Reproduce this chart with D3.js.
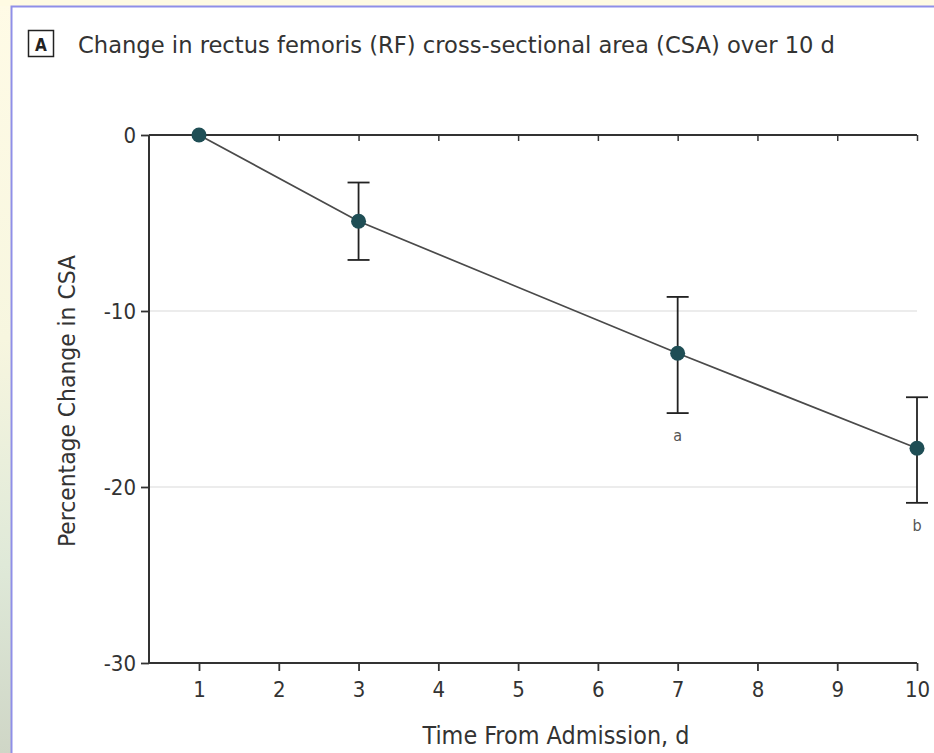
<!DOCTYPE html>
<html>
<head>
<meta charset="utf-8">
<script src="https://cdn.jsdelivr.net/npm/d3@7"></script>
<style>
  html, body { margin: 0; padding: 0; background: #fff; }
  svg { display: block; }
  text { font-family: "DejaVu Sans Condensed", "Liberation Sans Narrow", sans-serif; fill: #333; }
</style>
</head>
<body>
<div id="chart"></div>
<script>
// chart values
var days = [1, 3, 7, 10];
var meanChange = [0, -4.9, -12.4, -17.8];
var upperCI = [null, -2.7, -9.2, -14.9];
var lowerCI = [null, -7.1, -15.8, -20.9];
var notes = ["", "", "a", "b"];
var xTicks = [1, 2, 3, 4, 5, 6, 7, 8, 9, 10];
var yTicks = [0, -10, -20, -30];
var gridTicks = [-10, -20];

var titleText = "Change in rectus femoris (RF) cross-sectional area (CSA) over 10 d";
var yTitle = "Percentage Change in CSA";
var xTitle = "Time From Admission, d";

(function() {
  var w = 934, h = 753;
  var plotLeft = 149, plotRight = 917, plotTop = 135, plotBottom = 663;

  var svg = d3.select("#chart").append("svg")
      .attr("width", w)
      .attr("height", h);

  // slide background behind the figure
  var grad = svg.append("defs").append("linearGradient")
      .attr("id", "side").attr("x1", 0).attr("y1", 0).attr("x2", 0).attr("y2", 1);
  grad.append("stop").attr("offset", "0").attr("stop-color", "#fffbe6");
  grad.append("stop").attr("offset", "0.45").attr("stop-color", "#f7f6df");
  grad.append("stop").attr("offset", "0.75").attr("stop-color", "#dfe9d8");
  grad.append("stop").attr("offset", "1").attr("stop-color", "#cfd6c6");
  svg.append("rect").attr("width", w).attr("height", h).attr("fill", "url(#side)");
  svg.append("rect").attr("x", 0).attr("y", 0).attr("width", w).attr("height", 6).attr("fill", "#fffbe3");
  svg.append("rect").attr("x", 12).attr("y", 7).attr("width", w - 12).attr("height", h - 7).attr("fill", "#fff");
  svg.append("path")
      .attr("d", "M11.5," + h + "V6.5H" + w)
      .attr("fill", "none").attr("stroke", "#8f8fe8").attr("stroke-width", 2);

  // panel label and title
  svg.append("rect")
      .attr("x", 28.5).attr("y", 30.5).attr("width", 25).attr("height", 26)
      .attr("fill", "none").attr("stroke", "#222").attr("stroke-width", 1.5);
  svg.append("text")
      .attr("x", 41).attr("y", 51).attr("text-anchor", "middle")
      .style("font-size", "17px").style("font-weight", "bold").style("fill", "#222")
      .text("A");
  svg.append("text")
      .attr("x", 78).attr("y", 53)
      .attr("textLength", 757).attr("lengthAdjust", "spacingAndGlyphs")
      .style("font-size", "23px")
      .text(titleText);

  var x = d3.scaleLinear().domain([1, 10]).range([199, plotRight]);
  var y = d3.scaleLinear().domain([-30, 0]).range([plotBottom, plotTop]);

  // gridlines
  svg.append("g").selectAll("line")
      .data(gridTicks)
      .enter().append("line")
      .attr("x1", plotLeft).attr("x2", plotRight)
      .attr("y1", function(d) { return y(d); })
      .attr("y2", function(d) { return y(d); })
      .attr("stroke", "#d9d9d9").attr("stroke-width", 1.2);

  // axes
  var hyphen = function(d) { return String(d); };
  var xAxis = d3.axisBottom(x).tickValues(xTicks).tickSize(8).tickPadding(6).tickFormat(hyphen);
  var gx = svg.append("g").attr("transform", "translate(0," + plotBottom + ")").call(xAxis);
  var xTop = d3.axisBottom(x).tickValues(xTicks).tickSize(6).tickFormat("");
  var gxt = svg.append("g").attr("transform", "translate(0," + plotTop + ")").call(xTop);
  var yAxis = d3.axisLeft(y).tickValues(yTicks).tickSize(8).tickPadding(5).tickFormat(hyphen);
  var gy = svg.append("g").attr("transform", "translate(" + plotLeft + ",0)").call(yAxis);

  [gx, gxt, gy].forEach(function(g) {
    g.select(".domain").remove();
    g.selectAll(".tick line").attr("stroke", "#333").attr("stroke-width", 1.8);
    g.selectAll(".tick text")
        .style("font-size", "22px")
        .style("font-family", "'DejaVu Sans Condensed', sans-serif")
        .attr("fill", "#333");
  });
  gx.selectAll(".tick text").attr("dy", "0.9em");
  gxt.selectAll(".tick line").attr("stroke-width", 1.5);

  svg.append("path")
      .attr("d", "M" + plotLeft + "," + plotTop + "H" + plotRight + "M" + plotLeft + "," + plotBottom + "H" + plotRight + "M" + plotLeft + "," + plotTop + "V" + plotBottom)
      .attr("fill", "none").attr("stroke", "#333").attr("stroke-width", 2);

  // axis titles
  svg.append("text")
      .attr("transform", "translate(75,401) rotate(-90)")
      .attr("text-anchor", "middle")
      .attr("textLength", 292).attr("lengthAdjust", "spacingAndGlyphs")
      .style("font-size", "23px")
      .text(yTitle);
  svg.append("text")
      .attr("x", 556).attr("y", 744)
      .attr("text-anchor", "middle")
      .attr("textLength", 267).attr("lengthAdjust", "spacingAndGlyphs")
      .style("font-size", "24px")
      .text(xTitle);

  var points = days.map(function(d, i) {
    return {day: d, mean: meanChange[i], hi: upperCI[i], lo: lowerCI[i], note: notes[i]};
  });

  // line
  svg.append("path")
      .datum(points)
      .attr("fill", "none")
      .attr("stroke", "#4a4a4a")
      .attr("stroke-width", 1.7)
      .attr("d", d3.line().x(function(d) { return x(d.day); }).y(function(d) { return y(d.mean); }));

  // error bars
  var eb = svg.append("g").selectAll("g")
      .data(points.filter(function(d) { return d.hi != null; }))
      .enter().append("g")
      .attr("stroke", "#222").attr("stroke-width", 1.8);
  eb.append("line")
      .attr("x1", function(d) { return x(d.day); }).attr("x2", function(d) { return x(d.day); })
      .attr("y1", function(d) { return y(d.hi); }).attr("y2", function(d) { return y(d.lo); });
  eb.append("line")
      .attr("x1", function(d) { return x(d.day) - 11; }).attr("x2", function(d) { return x(d.day) + 11; })
      .attr("y1", function(d) { return y(d.hi); }).attr("y2", function(d) { return y(d.hi); });
  eb.append("line")
      .attr("x1", function(d) { return x(d.day) - 11; }).attr("x2", function(d) { return x(d.day) + 11; })
      .attr("y1", function(d) { return y(d.lo); }).attr("y2", function(d) { return y(d.lo); });

  // points
  svg.append("g").selectAll("circle")
      .data(points)
      .enter().append("circle")
      .attr("cx", function(d) { return x(d.day); })
      .attr("cy", function(d) { return y(d.mean); })
      .attr("r", 7.5)
      .attr("fill", "#1f4e55");

  // footnote markers
  svg.append("g").selectAll("text")
      .data(points.filter(function(d) { return d.note; }))
      .enter().append("text")
      .attr("x", function(d) { return x(d.day); })
      .attr("y", function(d) { return y(d.lo) + 28; })
      .attr("text-anchor", "middle")
      .style("font-size", "16px")
      .style("fill", "#555")
      .text(function(d) { return d.note; });
})();
</script>
</body>
</html>
